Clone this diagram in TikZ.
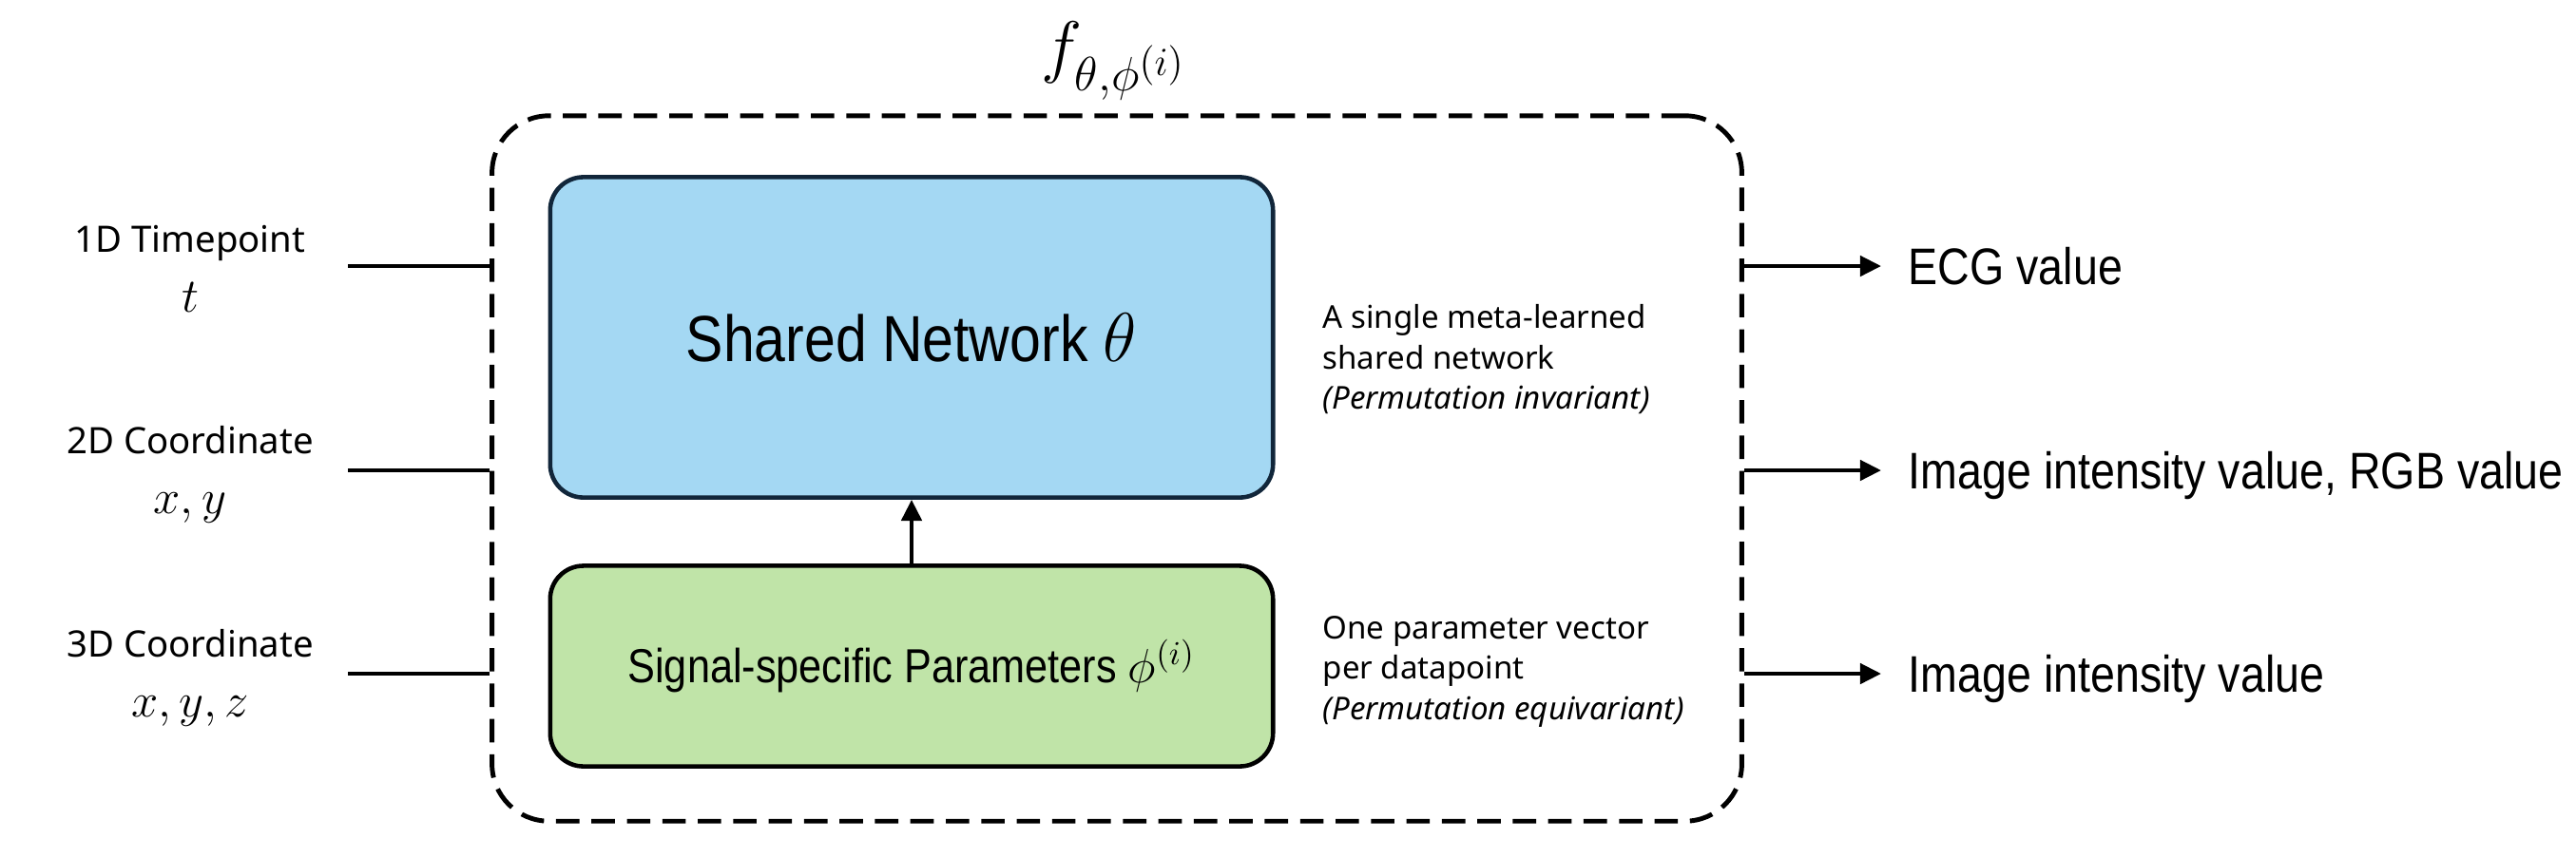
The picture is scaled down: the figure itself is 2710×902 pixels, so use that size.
\documentclass[tikz,border=0pt]{standalone}
\usepackage{amsmath}
\usepackage{fontspec}
\setmainfont{Liberation Sans}
\newfontfamily\narrowfont{Liberation Sans}[FakeStretch=0.86]
\newfontfamily\notefont{Noto Sans}
\usetikzlibrary{arrows.meta,positioning,calc}
\DeclareMathSizes{10.9}{15.5}{11}{8}
\DeclareMathSizes{20}{20}{15}{11.5}

\definecolor{netblue}{HTML}{A4D8F3}
\definecolor{netedge}{HTML}{11263A}
\definecolor{paramgreen}{HTML}{C0E4A8}

\tikzset{
        frame/.style={draw, dash pattern=on 7pt off 3.6pt, line width=1.4pt,
                rounded corners=0.6cm, minimum width=13.14cm, minimum height=7.42cm},
        netbox/.style={draw=netedge, fill=netblue, line width=1.3pt, rounded corners=0.35cm,
                minimum width=7.6cm, minimum height=3.37cm,
                font=\narrowfont\fontsize{19.5}{23}\selectfont},
        parambox/.style={draw=black, fill=paramgreen, line width=1.3pt, rounded corners=0.35cm,
                minimum width=7.6cm, minimum height=2.11cm,
                font=\narrowfont\fontsize{14.3}{17}\selectfont},
        inlabel/.style={align=center, font=\notefont\fontsize{10.9}{18}\selectfont},
        outlabel/.style={anchor=west, inner xsep=8pt, inner ysep=0pt, text height=11pt,
                text depth=0pt, font=\narrowfont\fontsize{15.4}{18}\selectfont},
        note/.style={anchor=north west, align=left, inner sep=0pt,
                font=\notefont\fontsize{9.4}{12}\selectfont},
        link/.style={line width=1.3pt},
        flow/.style={line width=1.3pt, -{Triangle[length=6.3pt,width=6pt]}}
}

\begin{document}
\begin{tikzpicture}[x=0.01cm,y=-0.01cm]
        \useasboundingbox (0,0) rectangle (2710,902);
        \node[frame] (frame) at (1175,493) {};
        \node (fname) at (1172,64) {\fontsize{20}{24}\selectfont $f_{\theta,\phi^{(i)}}$};

        \node[netbox] (net) at (959,355) {Shared Network $\theta$};
        \node[parambox] (param) at (959,701) {Signal-specific Parameters $\phi^{(i)}$};
        \draw[flow] (param) -- (net);

        \node[note] (netnote) at (1391,320) {A single meta-learned\\shared network\\\textit{(Permutation invariant)}};
        \node[note] (paramnote) at (1391,648) {One parameter vector\\per datapoint\\\textit{(Permutation equivariant)}};

        \node[inlabel] (time) at (200,283) {1D Timepoint\\$t$};
        \node[inlabel] (coordtwo) at (200,499) {2D Coordinate\\$x, y$};
        \node[inlabel] (coordthree) at (200,713) {3D Coordinate\\$x, y, z$};

        \coordinate (timein) at (366,280);
        \coordinate (twoin) at (366,495);
        \coordinate (threein) at (366,709);
        \draw[link] (timein) -- (timein -| frame.west);
        \draw[link] (twoin) -- (twoin -| frame.west);
        \draw[link] (threein) -- (threein -| frame.west);

        \node[outlabel] (ecg) at (1979,280) {ECG value};
        \node[outlabel] (rgb) at (1979,495) {Image intensity value, RGB value};
        \node[outlabel] (gray) at (1979,709) {Image intensity value};
        \draw[flow] (frame.east |- ecg) -- (ecg);
        \draw[flow] (frame.east |- rgb) -- (rgb);
        \draw[flow] (frame.east |- gray) -- (gray);
\end{tikzpicture}
\end{document}
